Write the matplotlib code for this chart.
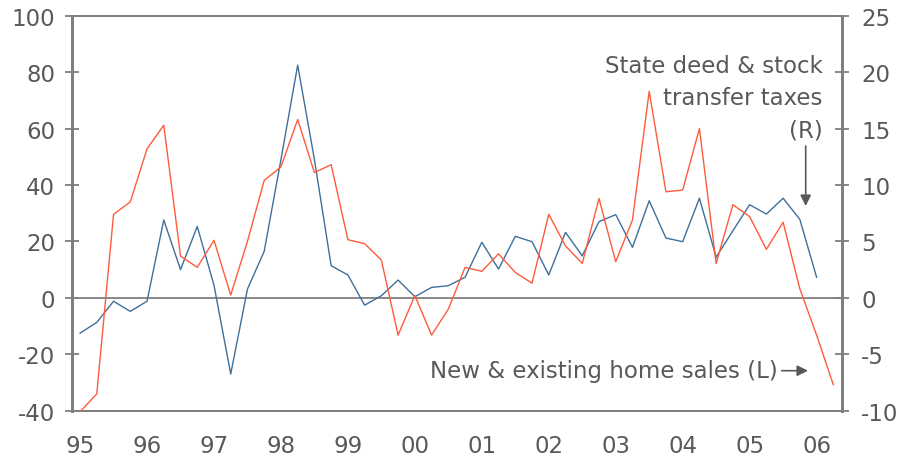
import matplotlib
matplotlib.use("Agg")
import matplotlib.pyplot as plt

# Data (quarterly, 1995Q1 onwards)
home_sales = [-12.5, -8.7, -1.2, -4.8, -1.2, 27.6, 10.0, 25.3, 4.5, -27.0,
              3.1, 16.5, 49.0, 82.5, 49.0, 11.4, 8.1, -2.6, 0.75, 6.3,
              0.4, 3.7, 4.3, 7.3, 19.7, 10.2, 21.8, 19.9, 8.1, 23.2,
              14.9, 27.0, 29.5, 17.9, 34.4, 21.2, 19.9, 35.3, 14.4, 23.8,
              33.0, 29.7, 35.3, 27.8, 7.3]
deed_taxes = [-10.1, -8.5, 7.4, 8.5, 13.2, 15.3, 3.7, 2.7, 5.1, 0.25,
              5.0, 10.4, 11.6, 15.8, 11.1, 11.8, 5.15, 4.8, 3.35, -3.3,
              0.2, -3.3, -1.0, 2.7, 2.35, 3.9, 2.25, 1.3, 7.4, 4.6,
              3.05, 8.8, 3.2, 6.9, 18.3, 9.4, 9.55, 15.0, 3.05, 8.25,
              7.2, 4.3, 6.7, 0.8, -3.3, -7.7]
year_labels = ["95", "96", "97", "98", "99", "00", "01", "02", "03", "04", "05", "06"]
left_ticks = [-40, -20, 0, 20, 40, 60, 80, 100]
right_ticks = [-10, -5, 0, 5, 10, 15, 20, 25]

TXT = "#595959"
SP = "#7f7f7f"
BLUE = "#3f6f9c"
RED = "#ff5a3c"
FS = 16.5

W, H = 901, 460
fig = plt.figure(figsize=(W / 100, H / 100), dpi=100)
L, R, T, B = 71.7, 841.7, 16.7, 411.7
ax = fig.add_axes([L / W, 1 - B / H, (R - L) / W, (B - T) / H])
ax2 = ax.twinx()

ax.plot(range(len(home_sales)), home_sales, color=BLUE, lw=1.0, zorder=3)
ax2.plot(range(len(deed_taxes)), deed_taxes, color=RED, lw=1.0, zorder=3)

ax.set_xlim(-0.5, 45.5)
ax.set_ylim(-40, 100)
ax2.set_ylim(-10, 25)
ax.axhline(0, color=SP, lw=1.3, zorder=1)

ax.set_yticks(left_ticks)
ax.set_yticklabels([str(v) for v in left_ticks])
ax2.set_yticks(right_ticks)
ax2.set_yticklabels([str(v) for v in right_ticks])
ax.set_xticks(range(0, 4 * len(year_labels), 4))
ax.set_xticklabels(year_labels)

ax.tick_params(axis="x", length=0, pad=17, labelsize=FS, labelcolor=TXT)
ax.tick_params(axis="y", direction="inout", length=10, width=1.3, color=SP,
               pad=7, labelsize=FS, labelcolor=TXT)
ax2.tick_params(axis="y", direction="inout", length=10, width=1.3, color=SP,
                pad=9, labelsize=FS, labelcolor=TXT)

for a in (ax, ax2):
    for s in a.spines.values():
        s.set_color(SP)
        s.set_linewidth(1.3)
    a.spines["left"].set_linewidth(2.0)
    a.spines["right"].set_linewidth(2.0)

# Annotations
def fx(px):
    return px / W

def fy(py):
    return 1 - py / H

for txt, py in [("State deed & stock", 66.7), ("transfer taxes", 98.3), ("(R)", 131)]:
    fig.text(fx(822.7), fy(py), txt, ha="right", va="center", fontsize=FS, color=TXT)
fig.text(fx(430), fy(371.7), "New & existing home sales (L)", ha="left", va="center",
         fontsize=FS, color=TXT)

arrow = dict(arrowstyle="-|>", color=TXT, lw=1.2, mutation_scale=16, shrinkA=0, shrinkB=0)
fig.add_artist(matplotlib.patches.FancyArrowPatch((fx(805.7), fy(147)), (fx(805.7), fy(207)),
                                                  transform=fig.transFigure, **arrow))
fig.add_artist(matplotlib.patches.FancyArrowPatch((fx(781.7), fy(371.7)), (fx(808), fy(371.7)),
                                                  transform=fig.transFigure, **arrow))

fig.savefig("out.png", dpi=100)
